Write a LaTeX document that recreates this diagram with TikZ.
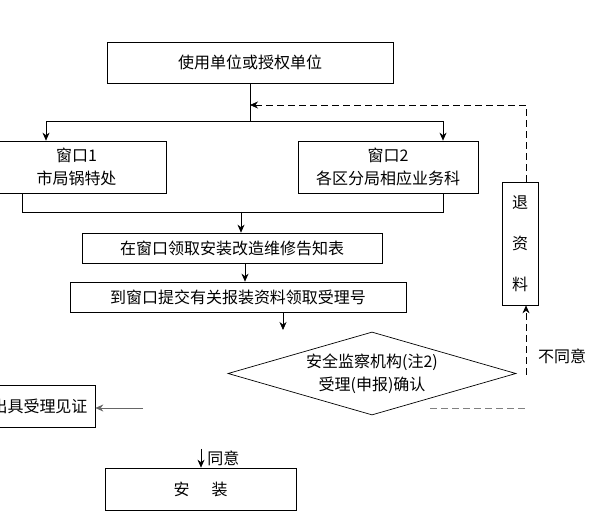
\documentclass[tikz,border=0pt]{standalone}
\usepackage{fontspec}
\setmainfont{Noto Sans CJK SC}
\usetikzlibrary{shapes.geometric, arrows, arrows.meta, positioning, calc}

\begin{document}
\begin{tikzpicture}[x=1pt, y=-1pt, line width=0.7pt, font=\fontsize{16}{23}\selectfont]
        \tikzstyle{process} = [rectangle, minimum height=30pt, inner sep=0pt, text centered, align=center, draw=black]
        \tikzstyle{decision} = [diamond, aspect=3.47, minimum width=288pt, minimum height=83pt, inner sep=0pt, text centered, align=center, draw=black]
        \tikzstyle{arrow} = [-{Stealth[length=8pt,width=7pt]}]
        \tikzstyle{backline} = [dash pattern=on 7pt off 4pt]

        \useasboundingbox (0,0) rectangle (592,526);

        \node (user) [process, minimum width=286pt, minimum height=41pt] at (250,62.5) {使用单位或授权单位};
        \node (win1) [process, minimum width=179pt, minimum height=52pt] at (76.5,167) {窗口1\\市局锅特处};
        \node (win2) [process, minimum width=180pt, minimum height=52pt] at (388,167) {窗口2\\各区分局相应业务科};
        \node (notice) [process, minimum width=300pt] at (232,248) {在窗口领取安装改造维修告知表};
        \node (submit) [process, minimum width=336pt] at (238,297) {到窗口提交有关报装资料领取受理号};
        \node (check) [decision] at (372,373.5) {安全监察机构(注2)\\受理(申报)确认};
        \node (back) [process, minimum width=36pt, minimum height=123pt, font=\fontsize{16}{41}\selectfont] at (520,243.5) {退\\资\\料};
        \node (cert) [process, minimum width=111pt, minimum height=42pt] at (39.5,406) {出具受理见证};
        \node (install) [process, minimum width=191pt, minimum height=42pt] at (200.5,489) {安\hspace{22pt}装};
        \node (no) at (562,356) {不同意};

        \coordinate (split) at (250,121);
        \coordinate (ret) at (250,105);
        \coordinate (merge) at (241,212);
        \coordinate (toward) at (283,330);
        \coordinate (refuse) at (526,375);
        \coordinate (pass) at (143,408);
        \coordinate (gapl) at (430,408);
        \coordinate (gapr) at (526,408);
        \coordinate (agree) at (201,449);

        \draw (user.south) -- (split);
        \draw [arrow] (split) -| ([xshift=-30.5pt]win1.north);
        \draw [arrow] (split) -| ([xshift=55pt]win2.north);
        \draw ([xshift=-54.5pt]win1.south) |- (merge);
        \draw ([xshift=55pt]win2.south) |- (merge);
        \draw [arrow] (merge) -- (merge |- notice.north);
        \draw [arrow] ([xshift=13pt]notice.south) -- ([xshift=13pt]notice.south |- submit.north);
        \draw [arrow] ([xshift=45pt]submit.south) -- (toward);
        \draw [arrow, backline] (refuse) -- ([xshift=6pt]back.south);
        \draw [arrow, backline] ([xshift=6pt]back.north) |- (ret);
        \draw [gray, backline] (gapl) -- (gapr);
        \draw [arrow, gray!80!black] (pass) -- (pass -| cert.east);
        \draw [arrow] (agree) -- (agree |- install.north) node [midway, right, inner sep=2pt, xshift=4pt] {同意};
    \end{tikzpicture}
\end{document}
